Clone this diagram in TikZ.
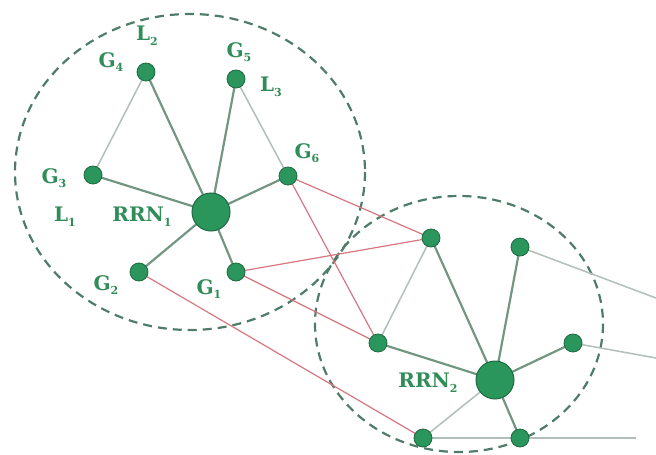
\documentclass[tikz,border=0pt]{standalone}
\usepackage{fontspec}
\setmainfont{DejaVu Serif}
\definecolor{nodefill}{RGB}{42,150,92}
\definecolor{nodeline}{RGB}{30,105,65}
\definecolor{labelgreen}{RGB}{48,140,88}
\definecolor{spoke}{RGB}{115,150,130}
\definecolor{lightedge}{RGB}{178,190,184}
\definecolor{crosslink}{RGB}{214,118,128}
\definecolor{zone}{RGB}{78,124,104}
\newcommand{\lbsub}[1]{\raisebox{-0.45ex}{\fontsize{11}{11}\selectfont #1}}
\tikzset{
  gw/.style={circle, fill=nodefill, draw=nodeline, line width=0.8pt, minimum size=18pt, inner sep=0pt},
  hub/.style={circle, fill=nodefill, draw=nodeline, line width=1pt, minimum size=38pt, inner sep=0pt},
  lbl/.style={text=labelgreen, font=\bfseries\fontsize{20}{20}\selectfont, inner sep=0pt},
  spokeedge/.style={draw=spoke, line width=2.2pt},
  lightline/.style={draw=lightedge, line width=1.5pt},
  redline/.style={draw=crosslink, line width=1.2pt},
  zoneline/.style={draw=zone, line width=2.2pt, dash pattern=on 9pt off 6pt},
}
\begin{document}
\begin{tikzpicture}[x=1pt, y=-1pt]
\useasboundingbox (0,0) rectangle (656,455);

% coverage areas
\draw[zoneline] (190,172) ellipse [x radius=175, y radius=158];
\draw[zoneline] (459,324) ellipse [x radius=144, y radius=128];

% first cluster
\coordinate (pR1) at (211,212);
\coordinate (pG1) at (236,272);
\coordinate (pG2) at (139,272);
\coordinate (pG3) at (93,175);
\coordinate (pG4) at (146,72);
\coordinate (pG5) at (236,79);
\coordinate (pG6) at (288,176);

% second cluster
\coordinate (pR2) at (495,380);
\coordinate (pA) at (431,238);
\coordinate (pB) at (520,247);
\coordinate (pC) at (378,343);
\coordinate (pD) at (573,343);
\coordinate (pE) at (423,438);
\coordinate (pF) at (520,438);

% outgoing links
\coordinate (oB) at (656,298);
\coordinate (oD) at (656,358);
\coordinate (oF) at (636,438);

% links drawn below the nodes
\draw[lightline] (pG4) -- (pG3);
\draw[lightline] (pG5) -- (pG6);
\draw[lightline] (pA) -- (pC);
\draw[lightline] (pB) -- (oB);
\draw[lightline] (pD) -- (oD);
\draw[lightline] (pE) -- (oF);
\draw[lightline] (pR2) -- (pE);

\foreach \g in {pG1,pG2,pG3,pG4,pG5,pG6}
  \draw[spokeedge] (pR1) -- (\g);
\foreach \g in {pA,pB,pC,pD,pF}
  \draw[spokeedge] (pR2) -- (\g);

\draw[redline] (pG6) -- (pA);
\draw[redline] (pG6) -- (pC);
\draw[redline] (pG1) -- (pA);
\draw[redline] (pG1) -- (pC);
\draw[redline] (pG2) -- (pE);

% nodes
\node[hub] (R1) at (pR1) {};
\node[hub] (R2) at (pR2) {};
\node[gw] (G1) at (pG1) {};
\node[gw] (G2) at (pG2) {};
\node[gw] (G3) at (pG3) {};
\node[gw] (G4) at (pG4) {};
\node[gw] (G5) at (pG5) {};
\node[gw] (G6) at (pG6) {};
\node[gw] (A) at (pA) {};
\node[gw] (B) at (pB) {};
\node[gw] (C) at (pC) {};
\node[gw] (D) at (pD) {};
\node[gw] (E) at (pE) {};
\node[gw] (F) at (pF) {};

% labels
\node[lbl] (tL2) at (147,36) {L\lbsub{2}};
\node[lbl] (tG4) at (111,62) {G\lbsub{4}};
\node[lbl] (tG5) at (239,52) {G\lbsub{5}};
\node[lbl] (tL3) at (271,87) {L\lbsub{3}};
\node[lbl] (tG6) at (307,153) {G\lbsub{6}};
\node[lbl] (tG3) at (54,178) {G\lbsub{3}};
\node[lbl] (tL1) at (65,217) {L\lbsub{1}};
\node[lbl] (tR1) at (142,217) {RRN\lbsub{1}};
\node[lbl] (tG2) at (106,285) {G\lbsub{2}};
\node[lbl] (tG1) at (209,289) {G\lbsub{1}};
\node[lbl] (tR2) at (428,383) {RRN\lbsub{2}};
\end{tikzpicture}
\end{document}
